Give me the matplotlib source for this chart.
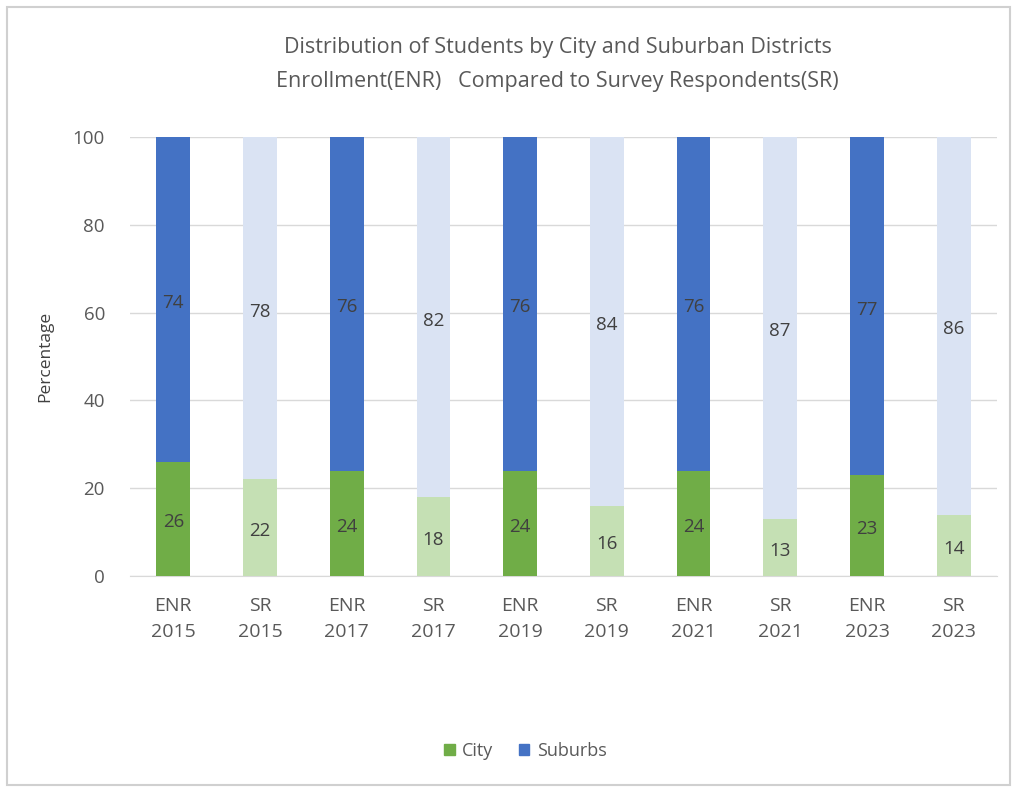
import matplotlib
matplotlib.use("Agg")
import matplotlib.pyplot as plt
import numpy as np
from matplotlib.patches import Rectangle, Patch

plt.rcParams['font.family'] = ['Open Sans', 'DejaVu Sans']

labels = ["ENR\n2015", "SR\n2015", "ENR\n2017", "SR\n2017", "ENR\n2019",
          "SR\n2019", "ENR\n2021", "SR\n2021", "ENR\n2023", "SR\n2023"]
city = [26, 22, 24, 18, 24, 16, 24, 13, 23, 14]
suburbs = [74, 78, 76, 82, 76, 84, 76, 87, 77, 86]

# ENR bars dark, SR bars light
city_cols = ["#70AD47" if i % 2 == 0 else "#C5E0B4" for i in range(len(labels))]
sub_cols = ["#4472C4" if i % 2 == 0 else "#DAE3F3" for i in range(len(labels))]

fig = plt.figure(figsize=(10.16, 7.91), dpi=100)
ax = fig.add_axes([130/1016, 1 - 576/791, 867/1016, 439/791])

x = np.arange(len(labels))
ax.bar(x, city, width=0.39, color=city_cols, zorder=3)
ax.bar(x, suburbs, width=0.39, bottom=city, color=sub_cols, zorder=3)

txt = "#404040"
for i in range(len(labels)):
    ax.text(x[i], city[i] / 2 - 0.8, str(city[i]), ha='center', va='center',
            fontsize=13.5, color=txt, zorder=4)
    ax.text(x[i], city[i] + suburbs[i] / 2 - 0.8, str(suburbs[i]), ha='center',
            va='center', fontsize=13.5, color=txt, zorder=4)

ax.set_xlim(-0.5, len(labels) - 0.5)
ax.set_ylim(0, 100)
ax.set_yticks(range(0, 101, 20))
ax.yaxis.grid(True, color="#D9D9D9", linewidth=1, zorder=0)
ax.set_xticks(x)
ax.set_xticklabels(labels, fontsize=14, color="#595959", linespacing=1.55)
ax.tick_params(axis='y', labelsize=13.5, labelcolor="#595959", length=0, pad=18)
ax.tick_params(axis='x', length=0, pad=15)
for s in ['top', 'right', 'left']:
    ax.spines[s].set_visible(False)
ax.spines['bottom'].set_color("#D9D9D9")
ax.set_ylabel("Percentage", fontsize=12.5, color="#404040", labelpad=14)

fig.text(0.549, 1 - 48/791, "Distribution of Students by City and Suburban Districts",
         ha='center', va='center', fontsize=15.5, color="#595959")
fig.text(0.549, 1 - 82/791, "Enrollment(ENR)   Compared to Survey Respondents(SR)",
         ha='center', va='center', fontsize=15.5, color="#595959")

handles = [Patch(color="#70AD47", label="City"), Patch(color="#4472C4", label="Suburbs")]
fig.legend(handles=handles, loc='center', bbox_to_anchor=(0.517, 1 - 751/791), ncol=2,
           frameon=False, fontsize=13, handlelength=0.6, handleheight=0.6,
           handletextpad=0.4, columnspacing=1.4, labelcolor="#595959")

fig.patches.append(Rectangle((7/1016, 6/791), 1003/1016, 778/791, transform=fig.transFigure,
                             fill=False, edgecolor="#D0D0D0", linewidth=1.5))

fig.savefig("out.png", dpi=100)
